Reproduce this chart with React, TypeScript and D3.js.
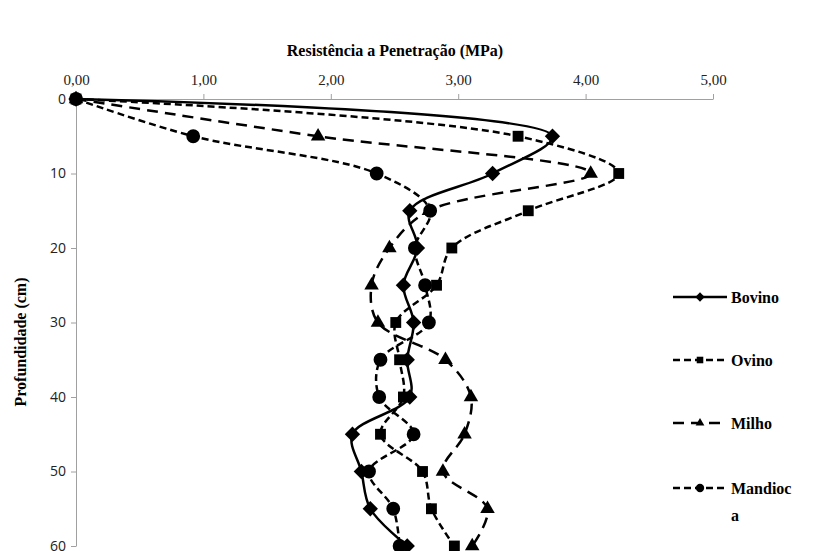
import { useEffect, useRef } from "react";
import * as d3 from "d3";

const DEPTHS = [0, 5, 10, 15, 20, 25, 30, 35, 40, 45, 50, 55, 60];
const BOVINO = [0, 3.74, 3.27, 2.62, 2.68, 2.57, 2.65, 2.6, 2.62, 2.17, 2.24, 2.31, 2.6];
const OVINO = [0, 3.47, 4.26, 3.55, 2.95, 2.83, 2.51, 2.54, 2.57, 2.39, 2.72, 2.79, 2.97];
const MILHO = [0, 1.9, 4.04, 2.77, 2.46, 2.32, 2.37, 2.9, 3.1, 3.05, 2.88, 3.23, 3.11];
const MANDIOCA = [0, 0.92, 2.36, 2.78, 2.66, 2.74, 2.77, 2.39, 2.38, 2.65, 2.3, 2.49, 2.54];

const X_TICKS = [0, 1, 2, 3, 4, 5];
const Y_TICKS = [0, 10, 20, 30, 40, 50, 60];

const TITLE = "Resistência a Penetração (MPa)";
const Y_LABEL = "Profundidade (cm)";

const LAYOUT = {
  width: 813,
  height: 551,
  left: 76,
  right: 713,
  top: 99,
  bottom: 546,
};

type Marker = "diamond" | "square" | "triangle" | "circle";

const SERIES: { name: string[]; values: number[]; dash: string | null; marker: Marker }[] = [
  { name: ["Bovino"], values: BOVINO, dash: null, marker: "diamond" },
  { name: ["Ovino"], values: OVINO, dash: "7,4", marker: "square" },
  { name: ["Milho"], values: MILHO, dash: "11,7", marker: "triangle" },
  { name: ["Mandioc", "a"], values: MANDIOCA, dash: "7,4", marker: "circle" },
];

const LEGEND_Y = [297, 360, 423, 488];

const SERIF = "'Times New Roman', 'Liberation Serif', Tinos, 'DejaVu Serif', 'Noto Serif', serif";
const SANS = "'Open Sans', 'Noto Sans', sans-serif";

function symbolPath(marker: Marker, size: number): string {
  const type =
    marker === "diamond"
      ? d3.symbolDiamond2
      : marker === "square"
      ? d3.symbolSquare2
      : marker === "triangle"
      ? d3.symbolTriangle2
      : d3.symbolCircle;
  return d3.symbol(type, size)() as string;
}

function drawChart(container: SVGSVGElement) {
  const svg = d3.select(container);
  svg.selectAll("*").remove();

  const x = d3.scaleLinear().domain([0, 5]).range([LAYOUT.left, LAYOUT.right]);
  const y = d3.scaleLinear().domain([0, 60]).range([LAYOUT.top, LAYOUT.bottom]);

  // title
  svg
    .append("text")
    .attr("x", 395)
    .attr("y", 56)
    .attr("text-anchor", "middle")
    .attr("font-family", SERIF)
    .attr("font-weight", "bold")
    .attr("font-size", 16)
    .text(TITLE);

  // x axis on top
  const xAxis = svg.append("g").attr("transform", `translate(0,${LAYOUT.top})`);
  xAxis
    .call(
      d3
        .axisTop(x)
        .tickValues(X_TICKS)
        .tickSize(5)
        .tickSizeOuter(0)
        .tickFormat((d) => d3.format(".2f")(d as number).replace(".", ","))
    )
    .call((g) => g.select(".domain").attr("stroke", "#a0a0a0"))
    .call((g) => g.selectAll(".tick line").attr("stroke", "#a0a0a0"))
    .call((g) =>
      g
        .selectAll(".tick text")
        .attr("font-family", SERIF)
        .attr("font-size", 15)
        .attr("fill", "#222")
        .attr("dy", "-0.4em")
    );

  // y axis
  const yAxis = svg.append("g").attr("transform", `translate(${LAYOUT.left},0)`);
  yAxis
    .call(d3.axisLeft(y).tickValues(Y_TICKS).tickSize(5).tickSizeOuter(0))
    .call((g) => g.select(".domain").attr("stroke", "#a0a0a0"))
    .call((g) => g.selectAll(".tick line").attr("stroke", "#a0a0a0"))
    .call((g) =>
      g
        .selectAll(".tick text")
        .attr("font-family", SANS)
        .attr("font-size", 14)
        .attr("fill", "#222")
        .attr("x", -10)
    );

  svg
    .append("text")
    .attr("transform", `translate(26,342) rotate(-90)`)
    .attr("text-anchor", "middle")
    .attr("font-family", SERIF)
    .attr("font-weight", "bold")
    .attr("font-size", 16)
    .text(Y_LABEL);

  const line = d3
    .line<number>()
    .x((d) => x(d))
    .y((_d, i) => y(DEPTHS[i]))
    .curve(d3.curveCatmullRom.alpha(0.5));

  SERIES.forEach((s) => {
    svg
      .append("path")
      .datum(s.values)
      .attr("fill", "none")
      .attr("stroke", "#000")
      .attr("stroke-width", 2.5)
      .attr("stroke-dasharray", s.dash ?? null)
      .attr("d", line);

    svg
      .append("g")
      .selectAll("path")
      .data(s.values)
      .join("path")
      .attr("transform", (d, i) => `translate(${x(d)},${y(DEPTHS[i])})`)
      .attr("d", symbolPath(s.marker, 150))
      .attr("fill", "#000");
  });

  // legend
  const legend = svg.append("g");
  SERIES.forEach((s, i) => {
    const row = legend.append("g").attr("transform", `translate(0,${LEGEND_Y[i]})`);
    row
      .append("line")
      .attr("x1", 673)
      .attr("x2", 727)
      .attr("stroke", "#000")
      .attr("stroke-width", 2.5)
      .attr("stroke-dasharray", s.dash ?? null);
    row
      .append("path")
      .attr("transform", "translate(700,0)")
      .attr("d", symbolPath(s.marker, 55))
      .attr("fill", "#000");
    s.name.forEach((t, j) => {
      row
        .append("text")
        .attr("x", 731)
        .attr("y", j * 27)
        .attr("dy", "0.35em")
        .attr("font-family", SERIF)
        .attr("font-weight", "bold")
        .attr("font-size", 16)
        .text(t);
    });
  });
}

export default function App() {
  const ref = useRef<SVGSVGElement | null>(null);

  useEffect(() => {
    if (ref.current) drawChart(ref.current);
  }, []);

  return (
    <svg
      ref={ref}
      width={LAYOUT.width}
      height={LAYOUT.height}
      style={{ position: "absolute", left: 0, top: 0, background: "#fff" }}
    />
  );
}
